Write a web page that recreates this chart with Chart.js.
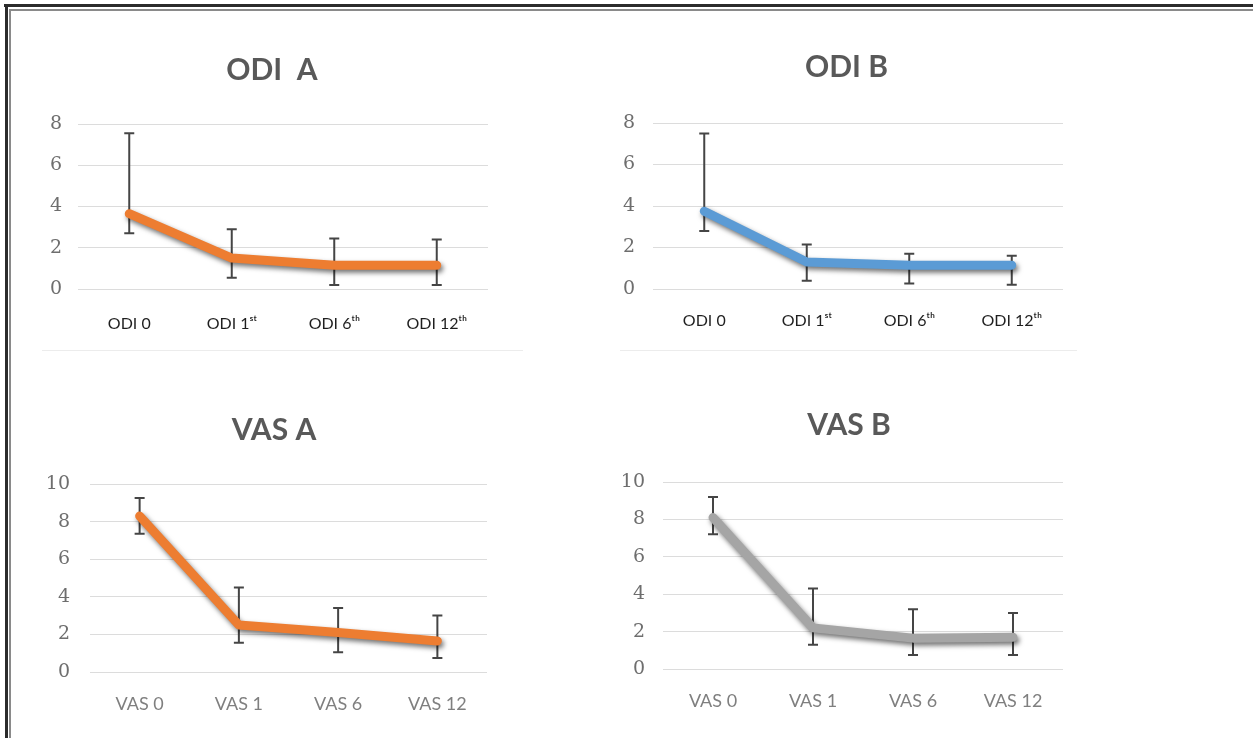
<!DOCTYPE html>
<html>
<head>
<meta charset="utf-8">
<script src="https://cdn.jsdelivr.net/npm/chart.js@4.4.0/dist/chart.umd.min.js"></script>
<style>
  body { margin: 0; background: #fff; width: 1253px; height: 738px; overflow: hidden; position: relative; }
  .line { position: absolute; }
  canvas { position: absolute; }
</style>
</head>
<body>
<div class="line" style="left:4px;top:4px;width:1249px;height:3px;background:#2b2b2b"></div>
<div class="line" style="left:9px;top:9px;width:1244px;height:2px;background:#8a8a8a"></div>
<div class="line" style="left:5px;top:4px;width:3px;height:734px;background:#2b2b2b"></div>
<div class="line" style="left:9px;top:9px;width:2px;height:729px;background:#8a8a8a"></div>
<div class="line" style="left:42px;top:350px;width:481px;height:1px;background:#ececec"></div>
<div class="line" style="left:620px;top:350px;width:457px;height:1px;background:#ececec"></div>

<canvas id="odiA" width="484" height="310" style="left:30px;top:40px"></canvas>
<canvas id="odiB" width="463" height="310" style="left:615px;top:40px"></canvas>
<canvas id="vasA" width="488" height="343" style="left:30px;top:395px"></canvas>
<canvas id="vasB" width="458" height="343" style="left:620px;top:395px"></canvas>

<script>
// categories
const odiLabels = ["ODI 0", "ODI 1ˢᵗ", "ODI 6ᵗʰ", "ODI 12ᵗʰ"];
const vasLabels = ["VAS 0", "VAS 1", "VAS 6", "VAS 12"];

// means and error bar ends
const odiAMean = [3.65, 1.5, 1.15, 1.15];
const odiAHigh = [7.55, 2.9, 2.45, 2.4];
const odiALow = [2.7, 0.55, 0.2, 0.2];

const odiBMean = [3.75, 1.3, 1.15, 1.15];
const odiBHigh = [7.5, 2.15, 1.7, 1.6];
const odiBLow = [2.8, 0.4, 0.27, 0.2];

const vasAMean = [8.3, 2.5, 2.1, 1.65];
const vasAHigh = [9.25, 4.5, 3.4, 3.0];
const vasALow = [7.35, 1.55, 1.05, 0.75];

const vasBMean = [8.1, 2.2, 1.65, 1.7];
const vasBHigh = [9.2, 4.3, 3.2, 3.0];
const vasBLow = [7.2, 1.3, 0.75, 0.75];

const odiMax = 8;
const vasMax = 10;
const tickStep = 2;

// error bars go under the line
const errorBars = {
  id: "errorBars",
  beforeDatasetsDraw(chart, args, opts) {
    const { ctx } = chart;
    const y = chart.scales.y;
    const meta = chart.getDatasetMeta(0);
    ctx.save();
    ctx.strokeStyle = "#454545";
    ctx.lineWidth = 2;
    meta.data.forEach((pt, i) => {
      const top = y.getPixelForValue(opts.high[i]);
      const bot = y.getPixelForValue(opts.low[i]);
      ctx.beginPath();
      ctx.moveTo(pt.x, top);
      ctx.lineTo(pt.x, bot);
      ctx.moveTo(pt.x - 5, top);
      ctx.lineTo(pt.x + 5, top);
      ctx.moveTo(pt.x - 5, bot);
      ctx.lineTo(pt.x + 5, bot);
      ctx.stroke();
    });
    ctx.restore();
  }
};

// soft drop shadow like the office line style
const lineShadow = {
  id: "lineShadow",
  beforeDatasetDraw(chart) {
    const ctx = chart.ctx;
    ctx.save();
    ctx.shadowColor = "rgba(0,0,0,0.55)";
    ctx.shadowBlur = 5;
    ctx.shadowOffsetX = 2;
    ctx.shadowOffsetY = 3;
  },
  afterDatasetDraw(chart) {
    chart.ctx.restore();
  }
};

function makeChart(id, cfg) {
  new Chart(document.getElementById(id), {
    type: "line",
    data: {
      labels: cfg.labels,
      datasets: [{
        data: cfg.mean,
        borderColor: cfg.color,
        borderWidth: 9,
        pointRadius: 0,
        tension: 0,
        borderCapStyle: "round",
        borderJoinStyle: "round"
      }]
    },
    plugins: [errorBars, lineShadow],
    options: {
      responsive: false,
      devicePixelRatio: 1,
      animation: false,
      plugins: {
        legend: { display: false },
        tooltip: { enabled: false },
        title: {
          display: true,
          text: cfg.title,
          color: "#595959",
          font: { family: "Lato", size: 30, weight: "bold" },
          padding: { top: cfg.titleTop, bottom: cfg.titleBottom }
        },
        errorBars: { high: cfg.high, low: cfg.low }
      },
      scales: {
        x: {
          offset: true,
          grid: { display: false, drawTicks: false },
          border: { display: false },
          afterFit: s => { s.height = cfg.xHeight; },
          ticks: {
            padding: cfg.xPad,
            color: cfg.xColor,
            font: { family: "Lato", size: cfg.xSize },
            maxRotation: 0,
            autoSkip: false
          }
        },
        y: {
          min: 0,
          max: cfg.max,
          grid: { color: "#dcdcdc", lineWidth: 1, drawTicks: false },
          border: { display: false },
          afterFit: s => { s.width = cfg.yWidth; },
          ticks: {
            stepSize: tickStep,
            padding: cfg.yPad,
            color: "#6e6e6e",
            font: { family: "DejaVu Serif", size: 19 }
          }
        },
        // empty right margin so the title stays centred on the canvas
        yR: {
          position: "right",
          grid: { display: false },
          border: { display: false },
          ticks: { display: false },
          afterFit: s => { s.width = cfg.padRight; }
        }
      }
    }
  });
}

makeChart("odiA", {
  labels: odiLabels, mean: odiAMean, high: odiAHigh, low: odiALow,
  color: "#ED7D31", title: "ODI  A", max: odiMax,
  padRight: 26, titleTop: 12, titleBottom: 36,
  yWidth: 48, yPad: 16, xHeight: 61, xPad: 25, xColor: "#1f1f1f", xSize: 16
});

makeChart("odiB", {
  labels: odiLabels, mean: odiBMean, high: odiBHigh, low: odiBLow,
  color: "#5B9BD5", title: "ODI B", max: odiMax,
  padRight: 15, titleTop: 9, titleBottom: 38,
  yWidth: 38, yPad: 18, xHeight: 61, xPad: 22, xColor: "#1f1f1f", xSize: 16
});

makeChart("vasA", {
  labels: vasLabels, mean: vasAMean, high: vasAHigh, low: vasALow,
  color: "#ED7D31", title: "VAS A", max: vasMax,
  padRight: 31, titleTop: 17, titleBottom: 36,
  yWidth: 60, yPad: 20, xHeight: 66, xPad: 21, xColor: "#7f7f7f", xSize: 18
});

makeChart("vasB", {
  labels: vasLabels, mean: vasBMean, high: vasBHigh, low: vasBLow,
  color: "#A5A5A5", title: "VAS B", max: vasMax,
  padRight: 15, titleTop: 12, titleBottom: 39,
  yWidth: 43, yPad: 18, xHeight: 69, xPad: 21, xColor: "#7f7f7f", xSize: 18
});
</script>
</body>
</html>
